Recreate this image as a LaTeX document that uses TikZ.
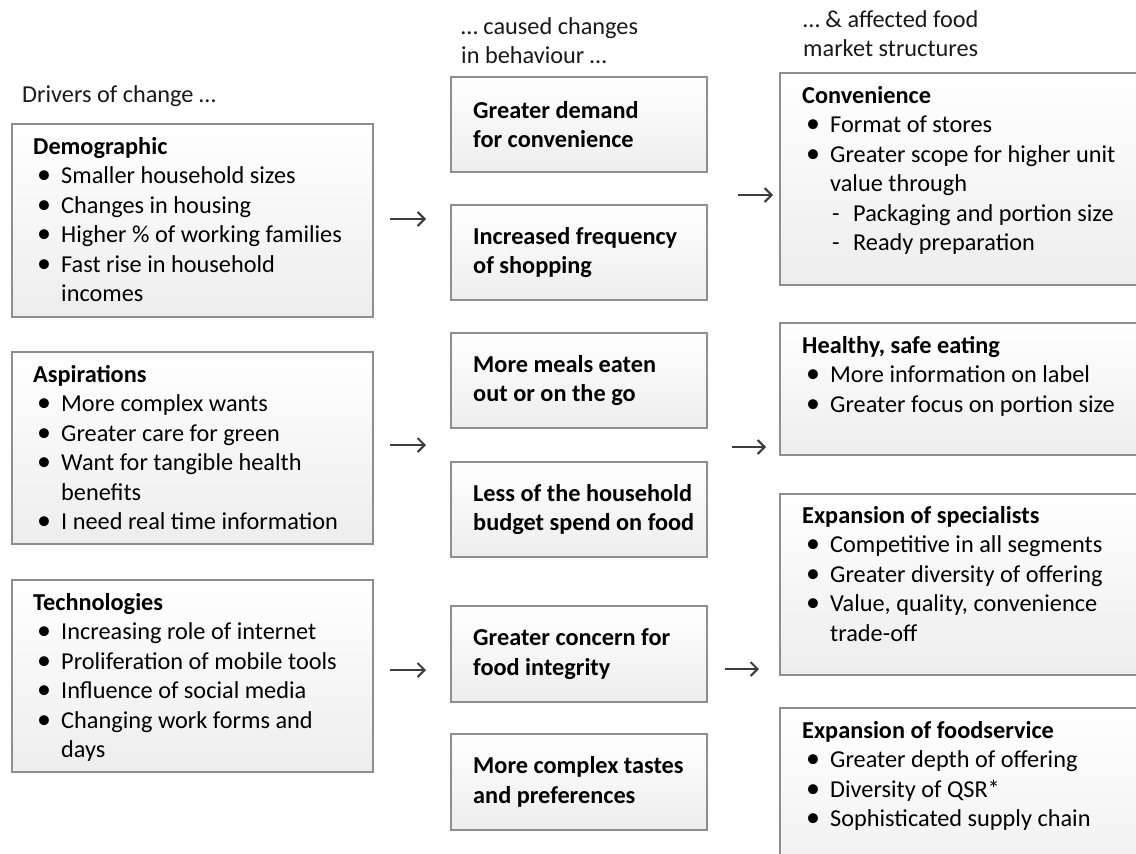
\documentclass[tikz,border=0pt]{standalone}
\usepackage{fontspec}
\usepackage{graphicx}
\setmainfont{Carlito}
\usetikzlibrary{arrows.meta}

\definecolor{boxline}{HTML}{8E8E8E}
\definecolor{boxbottom}{HTML}{EDEDED}
\definecolor{arrowgray}{HTML}{3C3C3C}

% list helpers: bullet item, continuation line, dash sub-item
\newcommand{\bigdot}{\raisebox{-0.3pt}{\scalebox{1.15}{•}}}
\newcommand{\itm}[1]{\makebox[28pt][l]{\hspace{4pt}\bigdot}#1}
\newcommand{\cnt}[1]{\hspace*{28pt}#1}
\newcommand{\subitm}[1]{\hspace*{30pt}\makebox[21pt][l]{-}#1}

\tikzset{
  basefont/.style={font=\fontsize{24.3}{29.5}\selectfont},
  panel/.style={draw=boxline, line width=1.2pt, top color=white, bottom color=boxbottom,
    inner sep=0pt, outer sep=0pt, anchor=north west},
  listtext/.style={basefont, inner sep=0pt, anchor=base west, text=black},
  headtext/.style={basefont, inner sep=0pt, anchor=base west, text=black!90},
  midtext/.style={font=\fontsize{24.3}{29.5}\selectfont\bfseries, inner sep=0pt, anchor=west,
    align=left, text=black},
  conn/.style={draw=arrowgray, line width=2pt, -{Straight Barb[length=7pt,width=14pt]}},
}

\begin{document}
\begin{tikzpicture}[x=1pt, y=-1pt]
\useasboundingbox (0,0) rectangle (1136,854);
\clip (0,0) rectangle (1136,854);

% column headings
\node[headtext] (h1) at (22,102) {Drivers of change …};
\node[headtext] (h2) at (461,34) {\begin{tabular}[t]{@{}l@{}}… caused changes\\in behaviour …\end{tabular}};
\node[headtext] (h3) at (803,27) {\begin{tabular}[t]{@{}l@{}}… \& affected food\\market structures\end{tabular}};

% drivers of change
\node[panel, minimum width=361pt, minimum height=193pt] (demo) at (12,124) {};
\node[listtext] (demo-t) at (33,154) {\begin{tabular}[t]{@{}l@{}}
  \textbf{Demographic}\\
  \itm{Smaller household sizes}\\
  \itm{Changes in housing}\\
  \itm{Higher \% of working families}\\
  \itm{Fast rise in household}\\
  \cnt{incomes}
\end{tabular}};

\node[panel, minimum width=361pt, minimum height=192pt] (asp) at (12,352) {};
\node[listtext] (asp-t) at (33,382) {\begin{tabular}[t]{@{}l@{}}
  \textbf{Aspirations}\\
  \itm{More complex wants}\\
  \itm{Greater care for green}\\
  \itm{Want for tangible health}\\
  \cnt{benefits}\\
  \itm{I need real time information}
\end{tabular}};

\node[panel, minimum width=361pt, minimum height=192pt] (tech) at (12,580) {};
\node[listtext] (tech-t) at (33,610) {\begin{tabular}[t]{@{}l@{}}
  \textbf{Technologies}\\
  \itm{Increasing role of internet}\\
  \itm{Proliferation of mobile tools}\\
  \itm{Influence of social media}\\
  \itm{Changing work forms and}\\
  \cnt{days}
\end{tabular}};

% changes in behaviour
\node[panel, minimum width=256pt, minimum height=95pt] (b1) at (451,77) {};
\node[midtext] (b1-t) at (473,124.5) {Greater demand\\for convenience};
\node[panel, minimum width=256pt, minimum height=95pt] (b2) at (451,205) {};
\node[midtext] (b2-t) at (473,252.5) {Increased frequency\\of shopping};
\node[panel, minimum width=256pt, minimum height=95pt] (b3) at (451,333) {};
\node[midtext] (b3-t) at (473,380.5) {More meals eaten\\out or on the go};
\node[panel, minimum width=256pt, minimum height=95pt] (b4) at (451,462) {};
\node[midtext] (b4-t) at (473,509.5) {Less of the household\\budget spend on food};
\node[panel, minimum width=256pt, minimum height=96pt] (b5) at (451,606) {};
\node[midtext] (b5-t) at (473,654) {Greater concern for\\food integrity};
\node[panel, minimum width=256pt, minimum height=96pt] (b6) at (451,734) {};
\node[midtext] (b6-t) at (473,782) {More complex tastes\\and preferences};

% market structures
\node[panel, minimum width=380pt, minimum height=212pt] (conv) at (780,73) {};
\node[listtext] (conv-t) at (802,103) {\begin{tabular}[t]{@{}l@{}}
  \textbf{Convenience}\\
  \itm{Format of stores}\\
  \itm{Greater scope for higher unit}\\
  \cnt{value through}\\
  \subitm{Packaging and portion size}\\
  \subitm{Ready preparation}
\end{tabular}};

\node[panel, minimum width=380pt, minimum height=132pt] (health) at (780,323) {};
\node[listtext] (health-t) at (802,353) {\begin{tabular}[t]{@{}l@{}}
  \textbf{Healthy, safe eating}\\
  \itm{More information on label}\\
  \itm{Greater focus on portion size}
\end{tabular}};

\node[panel, minimum width=380pt, minimum height=181pt] (spec) at (780,494) {};
\node[listtext] (spec-t) at (802,523) {\begin{tabular}[t]{@{}l@{}}
  \textbf{Expansion of specialists}\\
  \itm{Competitive in all segments}\\
  \itm{Greater diversity of offering}\\
  \itm{Value, quality, convenience}\\
  \cnt{trade-off}
\end{tabular}};

\node[panel, minimum width=380pt, minimum height=200pt] (food) at (780,708) {};
\node[listtext] (food-t) at (802,738) {\begin{tabular}[t]{@{}l@{}}
  \textbf{Expansion of foodservice}\\
  \itm{Greater depth of offering}\\
  \itm{Diversity of QSR*}\\
  \itm{Sophisticated supply chain}
\end{tabular}};

% arrows between the columns
\coordinate (la1) at (390,219); \coordinate (lb1) at (426,219);
\coordinate (la2) at (390,445); \coordinate (lb2) at (426,445);
\coordinate (la3) at (390,670); \coordinate (lb3) at (426,670);
\coordinate (ra1) at (738,195); \coordinate (rb1) at (773,195);
\coordinate (ra2) at (732,447); \coordinate (rb2) at (766,447);
\coordinate (ra3) at (725,669); \coordinate (rb3) at (759,669);
\draw[conn] (la1) -- (lb1);
\draw[conn] (la2) -- (lb2);
\draw[conn] (la3) -- (lb3);
\draw[conn] (ra1) -- (rb1);
\draw[conn] (ra2) -- (rb2);
\draw[conn] (ra3) -- (rb3);
\end{tikzpicture}
\end{document}
